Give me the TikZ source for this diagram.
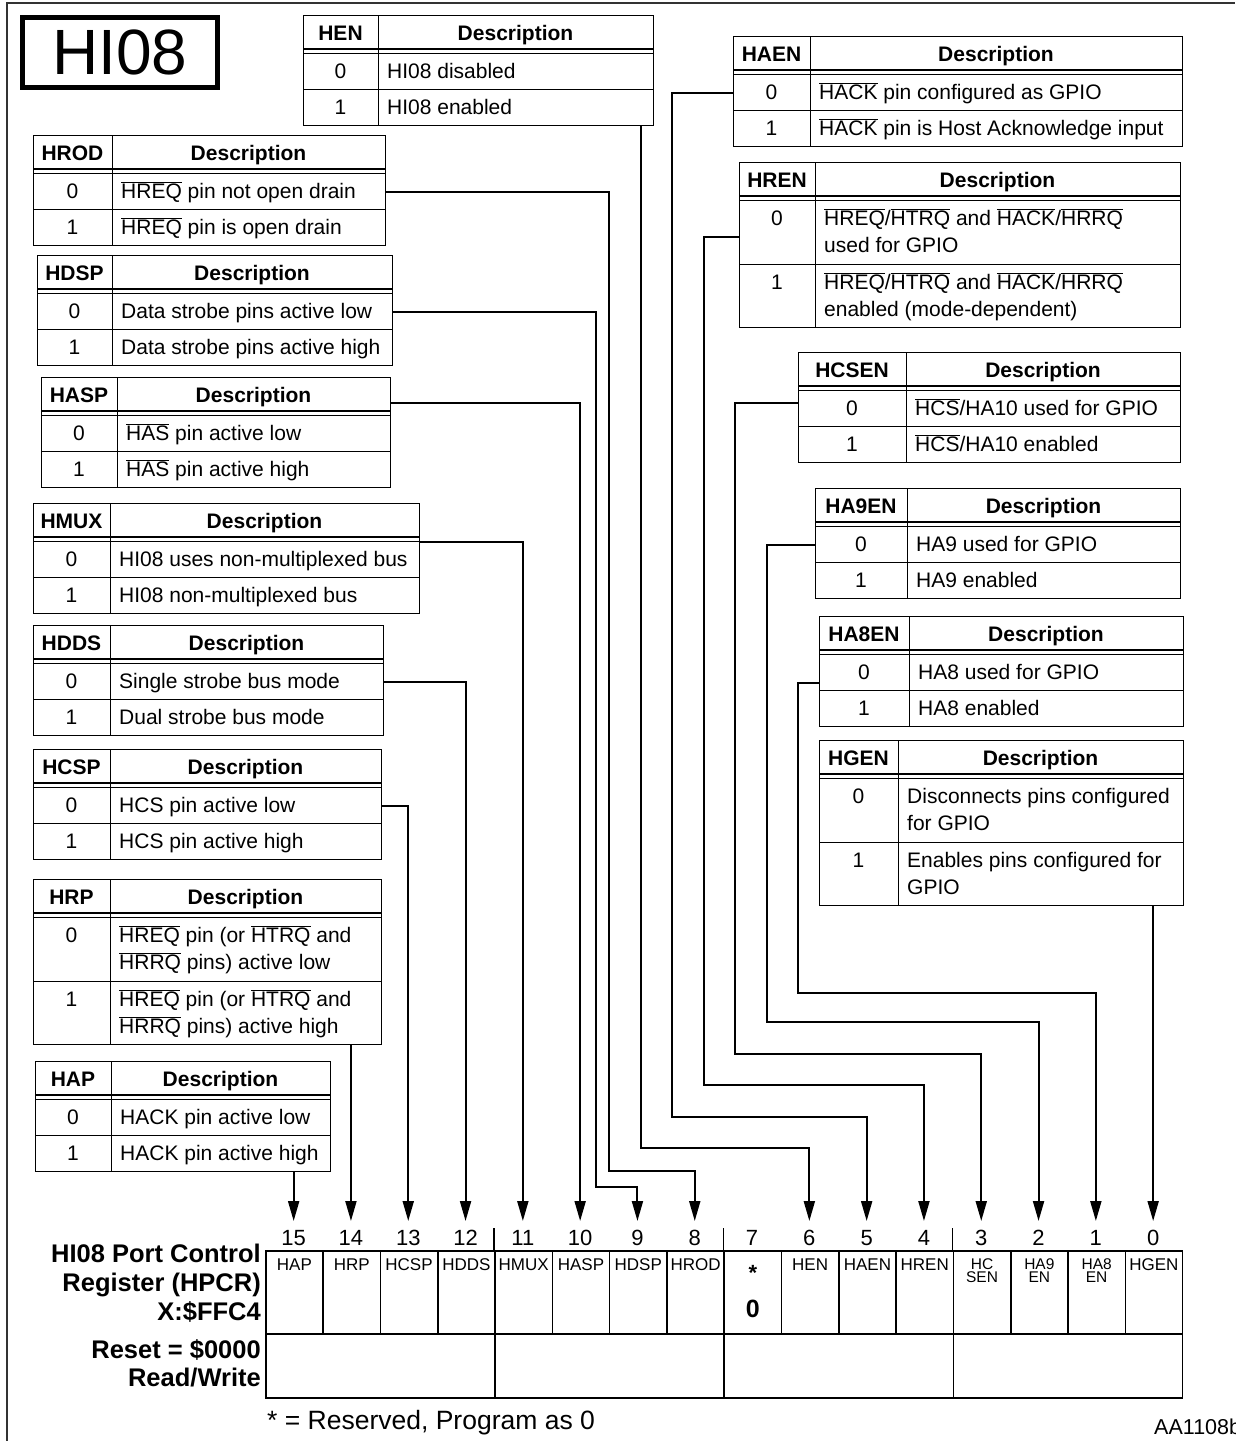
\documentclass[tikz,border=0pt]{standalone}
\usepackage{fontspec}
\setmainfont{Liberation Sans}
\usetikzlibrary{arrows.meta,calc}
\newcommand{\ovl}[1]{$\overline{\hbox{#1}}$}
\newcommand{\tabfont}{\fontsize{21}{27}\selectfont}
\tikzset{
 cellbox/.style={draw, line width=1.3pt, anchor=north west, inner sep=0pt},
 htext/.style={font=\tabfont\bfseries, inner sep=0pt},
 ttext/.style={font=\tabfont, inner sep=0pt},
 conn/.style={line width=2pt, line join=miter, -{Triangle[width=11pt,length=20pt]}},
 regcell/.style={draw, line width=1.6pt, anchor=north west, inner sep=0pt},
 reglab/.style={font=\fontsize{17}{20}\selectfont, inner sep=0pt, align=center},
 reglabb/.style={font=\fontsize{15.5}{14}\selectfont, inner sep=0pt, align=center},
 bitnum/.style={font=\fontsize{22}{26}\selectfont, inner sep=0pt, text height=16pt, text depth=0pt, outer ysep=8pt},
 side/.style={font=\fontsize{25.5}{30}\selectfont\bfseries, inner sep=0pt},
}
\newcommand{\thead}[6]{%
 \pgfmathsetmacro\tWa{#3-#2}\pgfmathsetmacro\tWb{#4-#3}%
 \pgfmathsetmacro\tCa{(#2+#3)/2}\pgfmathsetmacro\tCb{(#3+#4)/2}%
 \pgfmathsetmacro\tBy{#5+25.5}\pgfmathsetmacro\tDy{#5+34}%
 \node[cellbox, minimum width=\tWa pt, minimum height=38pt] (#1-hk) at (#2,#5) {};
 \node[cellbox, minimum width=\tWb pt, minimum height=38pt] (#1-hd) at (#3,#5) {};
 \draw[line width=1.3pt] (#2,\tDy) -- (#4,\tDy);
 \node[htext, anchor=base] (#1-hkt) at (\tCa,\tBy) {#6};
 \node[htext, anchor=base] (#1-hdt) at (\tCb,\tBy) {Description};
}
\newcommand{\trow}[8]{%
 \pgfmathsetmacro\tWa{#3-#2}\pgfmathsetmacro\tWb{#4-#3}%
 \pgfmathsetmacro\tCa{(#2+#3)/2}\pgfmathsetmacro\tBy{#5+25.5}%
 \pgfmathsetmacro\tTx{#3+9}\pgfmathsetmacro\tTy{#5+6.6}%
 \node[cellbox, minimum width=\tWa pt, minimum height=#6pt] (#1k) at (#2,#5) {};
 \node[cellbox, minimum width=\tWb pt, minimum height=#6pt] (#1d) at (#3,#5) {};
 \node[ttext, anchor=base] (#1kt) at (\tCa,\tBy) {#7};
 \node[ttext, anchor=north west, align=left] (#1t) at (\tTx,\tTy) {\strut #8};
}
\newcommand{\dtable}[9]{%
 \thead{#1}{#2}{#3}{#4}{#5}{#7}%
 \pgfmathsetmacro\tRa{#5+38}\pgfmathsetmacro\tRb{#5+38+#6}%
 \trow{#1-0}{#2}{#3}{#4}{\tRa}{#6}{0}{#8}%
 \trow{#1-1}{#2}{#3}{#4}{\tRb}{#6}{1}{#9}%
}
\begin{document}
\begin{tikzpicture}[x=1pt,y=-1pt]
\useasboundingbox (0,0) rectangle (1235,1441);
% outer frame
\draw[line width=1.5pt, black!80] (7,1441) -- (7,3) -- (1235,3);
% title
\node[draw, line width=5pt, minimum width=195pt, minimum height=70pt, inner sep=0pt,
      font=\fontsize{64}{70}\selectfont] (title) at (120,52.5) {HI08};
% tables left
\dtable{hen}{303}{378}{653}{15}{36}{HEN}{HI08 disabled}{HI08 enabled}
\dtable{hrod}{33}{112}{385}{135}{36}{HROD}{\ovl{HREQ} pin not open drain}{\ovl{HREQ} pin is open drain}
\dtable{hdsp}{37}{112}{392}{255}{36}{HDSP}{Data strobe pins active low}{Data strobe pins active high}
\dtable{hasp}{41}{117}{390}{377}{36}{HASP}{\ovl{HAS} pin active low}{\ovl{HAS} pin active high}
\dtable{hmux}{33}{110}{419}{503}{36}{HMUX}{HI08 uses non-multiplexed bus}{HI08 non-multiplexed bus}
\dtable{hdds}{33}{110}{383}{625}{36}{HDDS}{Single strobe bus mode}{Dual strobe bus mode}
\dtable{hcsp}{33}{110}{381}{749}{36}{HCSP}{HCS pin active low}{HCS pin active high}
\dtable{hrp}{33}{110}{381}{879}{63.5}{HRP}{\ovl{HREQ} pin (or \ovl{HTRQ} and\\\ovl{HRRQ} pins) active low}{\ovl{HREQ} pin (or \ovl{HTRQ} and\\\ovl{HRRQ} pins) active high}
\dtable{hap}{35}{111}{330}{1061}{36}{HAP}{HACK pin active low}{HACK pin active high}
% tables right
\dtable{haen}{733}{810}{1182}{36}{36}{HAEN}{\ovl{HACK} pin configured as GPIO}{\ovl{HACK} pin is Host Acknowledge input}
\dtable{hren}{739}{815}{1180}{162}{63.5}{HREN}{\ovl{HREQ}/\ovl{HTRQ} and \ovl{HACK}/\ovl{HRRQ}\\used for GPIO}{\ovl{HREQ}/\ovl{HTRQ} and \ovl{HACK}/\ovl{HRRQ}\\enabled (mode-dependent)}
\dtable{hcsen}{798}{906}{1180}{352}{36}{HCSEN}{\ovl{HCS}/HA10 used for GPIO}{\ovl{HCS}/HA10 enabled}
\dtable{ha9en}{815}{907}{1180}{488}{36}{HA9EN}{HA9 used for GPIO}{HA9 enabled}
\dtable{ha8en}{819}{909}{1183}{616}{36}{HA8EN}{HA8 used for GPIO}{HA8 enabled}
\dtable{hgen}{819}{898}{1183}{740}{63.5}{HGEN}{Disconnects pins configured\\for GPIO}{Enables pins configured for\\GPIO}
% register
\foreach \b in {15,...,0}{
  \pgfmathsetmacro\rx{265+57.3*(15-\b)}
  \pgfmathsetmacro\rc{\rx+28.65}
  \node[regcell, minimum width=57.3pt, minimum height=83pt] (r\b) at (\rx,1250) {};
  \node[bitnum, anchor=base] (n\b) at (\rc,1245) {\b};
}
\foreach \b/\lab in {15/HAP,14/HRP,13/HCSP,12/HDDS,11/HMUX,10/HASP,9/HDSP,8/HROD,6/HEN,5/HAEN,4/HREN,0/HGEN}{
  \node[reglab, anchor=base] (l\b) at ($(r\b.north)+(0,20)$) {\lab};
}
\foreach \b/\la/\lb in {3/HC/SEN,2/HA9/EN,1/HA8/EN}{
  \node[reglabb, anchor=base] (l\b) at ($(r\b.north)+(0,19)$) {\la};
  \node[reglabb, anchor=base] (m\b) at ($(r\b.north)+(0,32.5)$) {\lb};
}
\node[font=\fontsize{22}{26}\selectfont\bfseries, inner sep=0pt, anchor=base] (star) at ($(r7.north)+(0,30)$) {*};
\node[font=\fontsize{25}{30}\selectfont\bfseries, inner sep=0pt, anchor=base] (zero) at ($(r7.north)+(0,67)$) {0};
\foreach \g [count=\k from 0] in {a,b,c,d}{
  \pgfmathsetmacro\gx{265+229.2*\k}
  \node[regcell, minimum width=229.2pt, minimum height=64pt] (g\g) at (\gx,1333) {};
}
\foreach \b in {11,7,3}{ \draw[line width=1.6pt] (r\b.north west) -- ++(0,-22); }
% side labels
\node[side, anchor=base east] (s1) at (261,1262) {HI08 Port Control};
\node[side, anchor=base east] (s2) at (261,1291) {Register (HPCR)};
\node[side, anchor=base east] (s3) at (261,1320) {X:\$FFC4};
\node[side, anchor=base east] (s4) at (261,1358) {Reset = \$0000};
\node[side, anchor=base east] (s5) at (261,1386) {Read/Write};
\node[font=\fontsize{26.5}{30}\selectfont, inner sep=0pt, anchor=base west] (fn) at (267,1429) {* = Reserved, Program as 0};
\node[font=\fontsize{21.5}{25}\selectfont, inner sep=0pt, anchor=base west] (fig) at (1154,1434) {AA1108b};
% connectors
\coordinate (c9) at (596,1187);
\coordinate (c8) at (609,1171);
\coordinate (henx) at (641,1148);
\coordinate (c5) at (672,1117);
\coordinate (c4) at (704,1085);
\coordinate (c3) at (735,1054);
\coordinate (c2) at (767,1022);
\coordinate (c1) at (798,993);
\draw[conn] (hap-1d.south -| n15.north) -- (n15.north);
\draw[conn] (hrp-1d.south -| n14.north) -- (n14.north);
\draw[conn] (hcsp-0d.east) -| (n13.north);
\draw[conn] (hdds-0d.east) -| (n12.north);
\draw[conn] (hmux-hd.south east) -| (n11.north);
\draw[conn] ([yshift=-6pt]hasp-hd.east) -| (n10.north);
\draw[conn] (hdsp-0d.east) -| (c9) -| (n9.north);
\draw[conn] (hrod-0d.east) -| (c8) -| (n8.north);
\draw[conn] (hen-1d.south -| henx) -- (henx) -| (n6.north);
\draw[conn] (haen-0k.west) -| (c5) -| (n5.north);
\draw[conn] ([yshift=-5pt]hren-0k.west) -| (c4) -| (n4.north);
\draw[conn] ([yshift=6pt]hcsen-0k.west) -| (c3) -| (n3.north);
\draw[conn] (ha9en-0k.west) -| (c2) -| (n2.north);
\draw[conn] ([yshift=-10pt]ha8en-0k.west) -| (c1) -| (n1.north);
\draw[conn] (hgen-1d.south -| n0.north) -- (n0.north);
\end{tikzpicture}
\end{document}
